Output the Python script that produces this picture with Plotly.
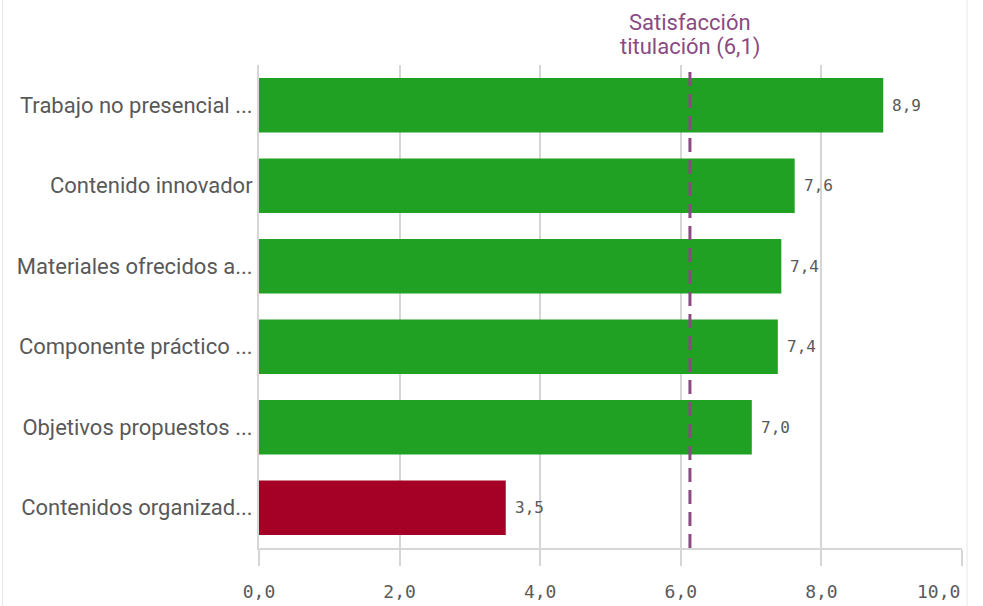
import plotly.graph_objects as go

categories = ["Trabajo no presencial ...", "Contenido innovador", "Materiales ofrecidos a...",
              "Componente práctico ...", "Objetivos propuestos ...", "Contenidos organizad..."]
values = [8.88, 7.62, 7.43, 7.38, 7.01, 3.51]
bar_colors = ["#21a123", "#21a123", "#21a123", "#21a123", "#21a123", "#a50026"]
ref_value = 6.13
ref_label_lines = ["Satisfacción", "titulación (6,1)"]
x_ticks = [0, 2, 4, 6, 8, 10]
x_ticklabels = ["0,0", "2,0", "4,0", "6,0", "8,0", "10,0"]

labels = [f"{v:.1f}".replace(".", ",") for v in values]
MONO = "DejaVu Sans Mono"
SANS = "Roboto"

fig = go.Figure()
fig.add_trace(go.Bar(
    y=categories, x=values, orientation="h",
    marker=dict(color=bar_colors, line=dict(width=0)),
    width=0.68, hoverinfo="x+y",
))

for cat, v, lab in zip(categories, values, labels):
    fig.add_annotation(x=v, y=cat, xref="x", yref="y", text=lab, showarrow=False,
                       xanchor="left", xshift=7,
                       font=dict(family=MONO, size=16, color="#595959"))

fig.add_shape(type="line", xref="x", yref="paper", x0=ref_value, x1=ref_value, y0=0, y1=1,
              line=dict(color="#8b4a83", width=3, dash="14px,8px"))
for line_text, shift in zip(ref_label_lines, [43, 18]):
    fig.add_annotation(x=ref_value, xref="x", y=1, yref="paper", yanchor="middle",
                       showarrow=False, text=line_text, yshift=shift,
                       font=dict(family=SANS, size=22, color="#8b4a83"))

# last tick label, right-aligned inside the chart
fig.add_annotation(x=x_ticks[-1], xref="x", y=0, yref="paper", yanchor="top", xanchor="right",
                   showarrow=False, text=x_ticklabels[-1], yshift=-31,
                   font=dict(family=MONO, size=18, color="#595959"))

# container border lines
for px in [3, 966]:
    xp = (px - 259) / 702
    fig.add_shape(type="line", xref="paper", yref="paper", x0=xp, x1=xp, y0=-0.2, y1=1.2,
                  line=dict(color="#e6e6e6", width=1))

fig.update_layout(
    width=983, height=606,
    margin=dict(l=259, r=21, t=65, b=58, autoexpand=False),
    plot_bgcolor="white", paper_bgcolor="white",
    showlegend=False,
    bargap=0.32,
    xaxis=dict(range=[0, 10], tickvals=x_ticks, ticktext=x_ticklabels[:-1] + [""],
               automargin=False,
               showgrid=True, gridcolor="#d6d6d6", gridwidth=2,
               showline=True, linecolor="#d6d6d6", linewidth=2,
               ticks="outside", ticklen=16, tickcolor="#d6d6d6", tickwidth=2,
               ticklabelstandoff=10,
               zeroline=False,
               tickfont=dict(family=MONO, size=18, color="#595959")),
    yaxis=dict(autorange="reversed", showline=True, linecolor="#d6d6d6", linewidth=2,
               automargin=False,
               showgrid=False, ticks="", ticklabelstandoff=0,
               tickfont=dict(family=SANS, size=22, color="#595959")),
)

fig.write_html("out.html", config={"displayModeBar": False},
               post_script="document.body.style.margin='0px';")
